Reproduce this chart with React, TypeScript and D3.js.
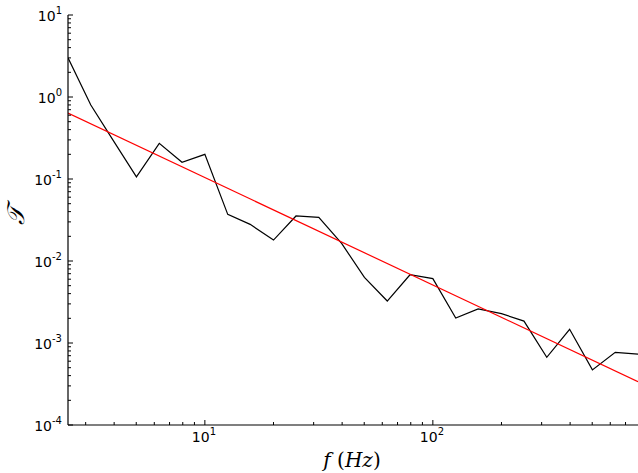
import React from "react";
import * as d3 from "d3";

const freqs = [2.51, 3.16, 3.98, 5.01, 6.31, 7.94, 10, 12.6, 15.8, 20, 25.1, 31.6, 39.8, 50.1, 63.1, 79.4, 100, 126, 158, 200, 251, 316, 398, 501, 631, 794];
const tValues = [3.0, 0.8, 0.29, 0.106, 0.272, 0.16, 0.2, 0.037, 0.028, 0.018, 0.0354, 0.034, 0.0164, 0.0063, 0.00325, 0.0068, 0.0061, 0.00202, 0.0026, 0.00228, 0.00185, 0.00067, 0.00147, 0.00047, 0.00077, 0.00073];
const fitA = 2.125;
const fitB = -1.31;
const xMajorExps = [1, 2];
const yMajorExps = [-4, -3, -2, -1, 0, 1];

const W = 638, H = 473;
const L = 68, R = 638, T = 15, B = 425;

export default function App() {
  const x = d3.scaleLog().domain([2.51, 794]).range([L, R]);
  const y = d3.scaleLog().domain([1e-4, 10]).range([B, T]);

  const pts = freqs.map((f, i) => [f, tValues[i]] as [number, number]);
  const line = d3.line<[number, number]>().x(d => x(d[0])).y(d => y(d[1]));
  const fitPts: [number, number][] = [freqs[0], freqs[freqs.length - 1]].map(f => [f, fitA * Math.pow(f, fitB)]);

  const [x0, x1] = x.domain();
  const xMinor: number[] = [];
  for (let e = 0; e <= 2; e++) for (let m = 2; m <= 9; m++) {
    const v = m * Math.pow(10, e);
    if (v >= x0 && v <= x1) xMinor.push(v);
  }
  const yMinor: number[] = [];
  for (let e = -4; e < 1; e++) for (let m = 2; m <= 9; m++) yMinor.push(m * Math.pow(10, e));

  const font = "DejaVu Sans, sans-serif";

  return (
    <svg width={W} height={H} style={{ position: "absolute", left: 0, top: 0, background: "#fff" }}>
      <defs>
        <clipPath id="plot"><rect x={L} y={T} width={R - L} height={B - T} /></clipPath>
      </defs>
      <g clipPath="url(#plot)">
        <path d={line(pts) || ""} fill="none" stroke="#000" strokeWidth={1.2} />
        <path d={line(fitPts) || ""} fill="none" stroke="#ff0000" strokeWidth={1.2} />
      </g>
      <line x1={L} x2={L} y1={T} y2={B} stroke="#000" strokeWidth={1.2} />
      <line x1={L} x2={R} y1={B} y2={B} stroke="#000" strokeWidth={1.2} />
      {yMajorExps.map(e => (
        <g key={"ym" + e}>
          <line x1={L} x2={L + 5} y1={y(Math.pow(10, e))} y2={y(Math.pow(10, e))} stroke="#000" />
          <text x={62} y={y(Math.pow(10, e)) + 5.5} textAnchor="end" fontFamily={font} fontSize={14}>
            10<tspan fontSize={10} dy={-7}>{e}</tspan>
          </text>
        </g>
      ))}
      {yMinor.map((v, i) => (
        <line key={"yn" + i} x1={L} x2={L + 3} y1={y(v)} y2={y(v)} stroke="#000" />
      ))}
      {xMajorExps.map(e => (
        <g key={"xm" + e}>
          <line x1={x(Math.pow(10, e))} x2={x(Math.pow(10, e))} y1={B} y2={B - 5} stroke="#000" />
          <text x={x(Math.pow(10, e)) - 13} y={442} textAnchor="start" fontFamily={font} fontSize={14}>
            10<tspan fontSize={10} dy={-7}>{e}</tspan>
          </text>
        </g>
      ))}
      {xMinor.map((v, i) => (
        <line key={"xn" + i} x1={x(v)} x2={x(v)} y1={B} y2={B - 3} stroke="#000" />
      ))}
      <text x={352} y={467} textAnchor="middle" fontFamily="DejaVu Serif, serif" fontSize={20}>
        <tspan fontStyle="italic">f</tspan>
        <tspan> (</tspan>
        <tspan fontStyle="italic">Hz</tspan>
        <tspan>)</tspan>
      </text>
      <text transform="translate(24,216) rotate(-90)" textAnchor="middle" fontFamily="Liberation Serif, DejaVu Serif, serif" fontStyle="italic" fontSize={24}>
        𝒯
      </text>
    </svg>
  );
}
